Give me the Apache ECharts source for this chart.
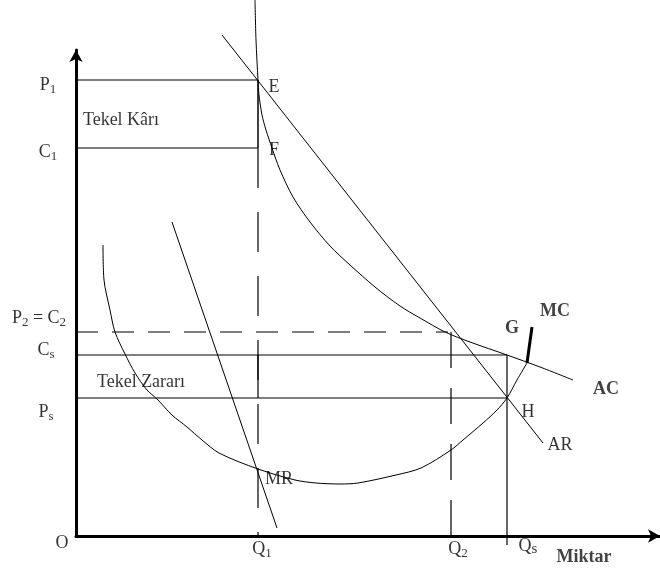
<!DOCTYPE html>
<html><head><meta charset="utf-8">
<script src="https://cdn.jsdelivr.net/npm/echarts@6/dist/echarts.min.js"></script>
<style>html,body{margin:0;padding:0;background:#fff}#c{width:660px;height:572px}</style>
</head><body><div id="c"></div>
<script>
// Curves (quantity, price) in chart units
const arCurve = [[146,501],[467,93]];
const mrCurve = [[96,314],[201,8]];
const acCurve = [[179,536],[180,496],[182,456],[183,441],[186,421],[190,406],[196,388],[204,366],[217,339],[234,314],[254,290],[274,271],[299,249],[324,230],[344,218],[369,204],[394,194],[431,181],[464,169],[497,156]];
const mcCurve = [[27,291],[28,256],[34,226],[39,204],[49,182],[59,163],[71,146],[81,137],[96,121],[111,109],[126,96],[143,83],[182,67],[219,56],[240,53],[264,52],[282,53],[320,61],[345,68],[375,86],[387,96],[407,113],[421,126],[431,138],[441,156],[451,173]];
const mcThick = [[451,173],[456,209]];
// Guide lines
const p1Line = [[0,456],[182,456]];
const c1Line = [[0,388],[182,388]];
const q1Profit = [[182,456],[182,388]];
const q1Dash = [[182,388],[182,0]];
const p2Dash = [[0,204],[372,204]];
const q2Dash = [[375,204],[375,0]];
const csLine = [[0,181],[431,181]];
const psLine = [[0,138],[431,138]];
const q1Loss = [[182,181],[182,138]];
const qsLine = [[431,181],[431,-9]];
// Tick / point labels: [x, y, text]
const tickLabels = [
  [-28,451,'{m|P}{s|1}'],[-28,384,'{m|C}{s|1}'],[-37,218,'{m|P}{s|2}{m| = C}{s|2}'],
  [-30,186,'{m|C}{s|s}'],[-30,124,'{m|P}{s|s}'],[-14,-7,'{m|O}'],
  [186,-13,'{m|Q}{s|1}'],[382,-13,'{m|Q}{s|2}'],[452,-10,'{m|Q}{q|s}']
];
const pointLabels = [
  [198,449,'{m|E}'],[198,386,'{m|F}'],[45,416,'{m|Tekel Kârı}'],[65,154,'{m|Tekel Zararı}'],
  [203,57,'{m|MR}'],[452,124,'{m|H}'],[484,91,'{m|AR}'],
  [436,208,'{b|G}'],[479,225,'{b|MC}'],[530,147,'{b|AC}'],[508,-21,'{b|Miktar}']
];

const FONT = 'Liberation Serif';
const rich = {
  m:{fontFamily:FONT,fontSize:18,color:'#000',lineHeight:22},
  s:{fontFamily:FONT,fontSize:13,color:'#000',lineHeight:13,verticalAlign:'bottom'},
  q:{fontFamily:FONT,fontSize:15,color:'#000',lineHeight:20,verticalAlign:'bottom'},
  b:{fontFamily:FONT,fontSize:18,fontWeight:'bold',color:'#111',lineHeight:22}
};
function ln(data, w, type, smooth){
  return {type:'line', data:data, symbol:'none', clip:false, smooth:smooth||false, silent:true,
    lineStyle:{color:'#000', width:w, type:type||'solid'}};
}
function lbl(data){
  return {type:'scatter', data:data, symbolSize:0, clip:false, silent:true,
    label:{show:true, position:'inside', align:'center', verticalAlign:'middle',
      formatter:p=>p.data[2], rich:rich}};
}
const chart = echarts.init(document.getElementById('c'), null, {renderer:'canvas'});
chart.setOption({
  animation:false,
  backgroundColor:'#fff',
  grid:{left:76, top:50, width:584, height:486},
  xAxis:{type:'value', min:0, max:584, splitLine:{show:false}, axisTick:{show:false}, axisLabel:{show:false},
    axisLine:{show:true, lineStyle:{color:'#000', width:3}, symbol:['none','arrow'], symbolSize:[10,12]}},
  yAxis:{type:'value', min:0, max:486, splitLine:{show:false}, axisTick:{show:false}, axisLabel:{show:false},
    axisLine:{show:true, lineStyle:{color:'#000', width:3}, symbol:['none','arrow'], symbolSize:[10,12]}},
  series:[
    ln(p1Line,1.2), ln(c1Line,1.2), ln(q1Profit,1.5), ln(q1Dash,1.2,[40,24]),
    ln(p2Dash,1.2,[22,14]), ln(q2Dash,1.2,[36,20]), ln(csLine,1.2), ln(psLine,1.2),
    ln(q1Loss,1.2), ln(qsLine,1.2),
    ln(arCurve,1), ln(mrCurve,1), ln(acCurve,1,'solid',0.3), ln(mcCurve,1,'solid',0.3),
    ln(mcThick,3),
    lbl(tickLabels), lbl(pointLabels)
  ]
});
</script></body></html>
